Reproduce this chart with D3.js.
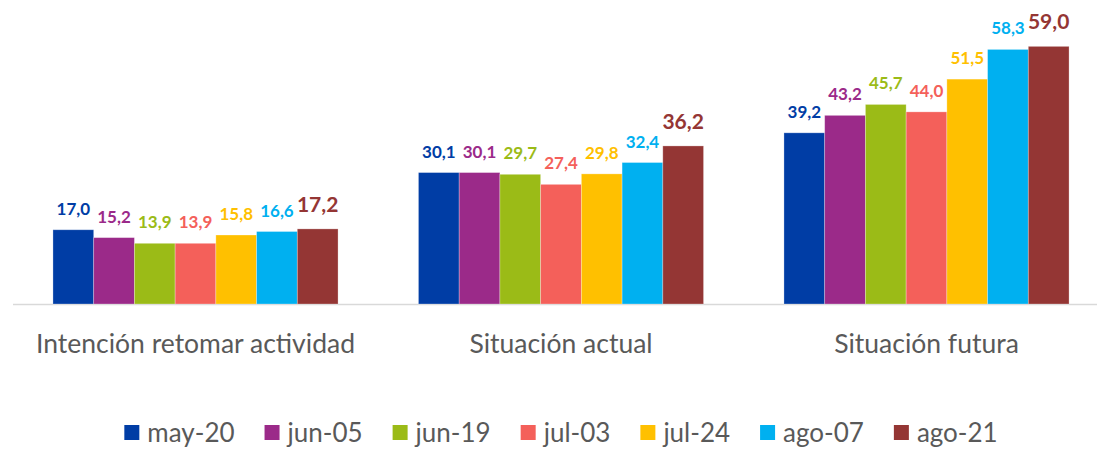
<!DOCTYPE html>
<html>
<head>
<meta charset="utf-8">
<script src="https://cdn.jsdelivr.net/npm/d3@7"></script>
<style>
  html, body { margin: 0; padding: 0; background: #ffffff; }
  svg { display: block; }
  text { font-family: Lato, "Open Sans", sans-serif; }
</style>
</head>
<body>
<svg id="chart" width="1097" height="451"></svg>
<script>
// Categories on the x axis
const categories = ["Intención retomar actividad", "Situación actual", "Situación futura"];

// Survey waves (legend order)
const waves = ["may-20", "jun-05", "jun-19", "jul-03", "jul-24", "ago-07", "ago-21"];

// Values per wave, one entry per category
const may20 = [17.0, 30.1, 39.2];
const jun05 = [15.2, 30.1, 43.2];
const jun19 = [13.9, 29.7, 45.7];
const jul03 = [13.9, 27.4, 44.0];
const jul24 = [15.8, 29.8, 51.5];
const ago07 = [16.6, 32.4, 58.3];
const ago21 = [17.2, 36.2, 59.0];

const seriesValues = [may20, jun05, jun19, jul03, jul24, ago07, ago21];

const colors = ["#003DA5", "#9B2A89", "#9BBB17", "#F4605A", "#FFC000", "#00B0F0", "#943634"];

const fmt = v => d3.format(".1f")(v).replace(".", ",");

const svg = d3.select("#chart");
const W = 1097, H = 451;

const x0 = d3.scaleBand()
  .domain(categories)
  .range([12.75, 1109.25])
  .paddingInner(0.22)
  .paddingOuter(0.11);

const x1 = d3.scaleBand()
  .domain(waves)
  .range([0, x0.bandwidth()])
  .padding(0);

const y = d3.scaleLinear()
  .domain([0, 60])
  .range([304, 42]);

const color = d3.scaleOrdinal().domain(waves).range(colors);

// Flattened rows for drawing
const rows = [];
categories.forEach((c, ci) => {
  waves.forEach((w, wi) => {
    rows.push({ cat: c, wave: w, wi, value: seriesValues[wi][ci] });
  });
});

// Baseline
svg.append("line")
  .attr("x1", 13).attr("x2", W)
  .attr("y1", y(0) + 0.5).attr("y2", y(0) + 0.5)
  .attr("stroke", "#d9d9d9")
  .attr("stroke-width", 1.5);

// Bars
svg.append("g").selectAll("rect")
  .data(rows)
  .join("rect")
  .attr("x", d => x0(d.cat) + x1(d.wave))
  .attr("y", d => y(d.value))
  .attr("width", x1.bandwidth())
  .attr("height", d => y(0) - y(d.value))
  .attr("fill", d => color(d.wave))
  .attr("stroke", "#ffffff")
  .attr("stroke-opacity", 0.35)
  .attr("stroke-width", 0.8);

// Value labels (last wave drawn larger)
const lastWave = waves[waves.length - 1];
svg.append("g").selectAll("text")
  .data(rows)
  .join("text")
  .attr("x", d => x0(d.cat) + x1(d.wave) + x1.bandwidth() / 2)
  .attr("y", d => y(d.value) - (d.wave === lastWave ? 17 : 15))
  .attr("text-anchor", "middle")
  .attr("font-weight", 700)
  .attr("font-size", d => d.wave === lastWave ? 21 : 17)
  .attr("fill", d => color(d.wave))
  .text(d => fmt(d.value));

// Category axis labels
const xAxis = d3.axisBottom(x0).tickSize(0).tickPadding(0);
const gx = svg.append("g").call(xAxis);
gx.select(".domain").remove();
gx.selectAll("text")
  .attr("y", 353)
  .attr("dy", null)
  .attr("font-size", 26.5)
  .attr("font-family", "Lato, sans-serif")
  .attr("fill", "#595959");

// Legend, centred under the chart
const legend = svg.append("g");
const items = legend.selectAll("g")
  .data(waves)
  .join("g");
items.append("rect")
  .attr("width", 15).attr("height", 15)
  .attr("y", 425)
  .attr("fill", d => color(d));
items.append("text")
  .attr("x", 23)
  .attr("y", 442)
  .attr("font-size", 26)
  .attr("fill", "#595959")
  .text(d => d);

const gap = 30;
let cursor = 0;
items.each(function () {
  const g = d3.select(this);
  const tw = g.select("text").node().getComputedTextLength();
  g.attr("transform", `translate(${cursor},0)`);
  cursor += 23 + tw + gap;
});
const totalW = cursor - gap;
legend.attr("transform", `translate(${561 - totalW / 2},0)`);
</script>
</body>
</html>
